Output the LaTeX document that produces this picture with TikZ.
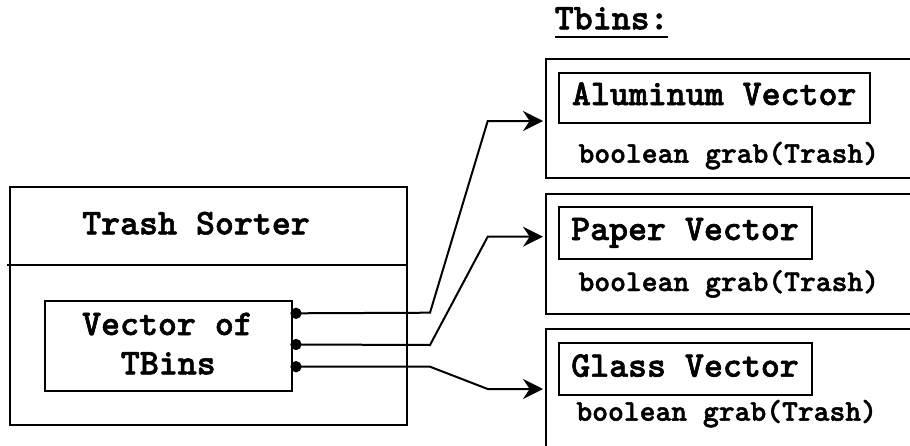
\documentclass[tikz,border=0pt]{standalone}
\usepackage{fontspec}
\newfontfamily\courbold{lmmonolt10-bold.otf}[FakeBold=1.6]
\usetikzlibrary{arrows.meta,fit}
\begin{document}
\begin{tikzpicture}[x=0.75pt,y=-0.75pt,
  line width=1.5pt,
  box/.style={draw,line width=1.5pt,inner sep=0pt,rectangle},
  bigtxt/.style={font=\courbold\fontsize{27.1pt}{30pt}\selectfont,anchor=base,inner sep=0pt},
  smalltxt/.style={font=\courbold\fontsize{22.6pt}{26pt}\selectfont,anchor=base,inner sep=0pt},
  conn/.style={line width=1.5pt,line join=miter},
  arr/.style={conn,-{Stealth[length=15pt,width=15pt,inset=5pt]}},
  dot/.style={circle,fill=black,inner sep=0pt,minimum size=8.5pt}]
\useasboundingbox (0,0) rectangle (910,446);
\clip (0,0) rectangle (910,446);

% Trash Sorter
\coordinate (s1) at (10,187);
\coordinate (s2) at (407,425);
\node[box,fit=(s1)(s2)] (sorter) {};
\coordinate (divL) at (7,265);
\coordinate (divR) at (407,265);
\draw (divL) -- (divR);
\node[bigtxt] (sortertxt) at (196,234.3) {Trash Sorter};

\coordinate (v1) at (45,301);
\coordinate (v2) at (292,391);
\node[box,fit=(v1)(v2)] (vec) {};
\node[bigtxt] (vectxt1) at (167.5,335) {Vector of};
\node[bigtxt] (vectxt2) at (168.3,374.3) {TBins};

% Tbins label
\node[bigtxt] (tbins) at (611.7,29.3) {Tbins:};
\coordinate (ulL) at (555,37.3);
\coordinate (ulR) at (668.3,37.3);
\draw (ulL) -- (ulR);

% Right boxes
\coordinate (a1) at (545.7,59);
\coordinate (a2) at (930,178.3);
\node[box,fit=(a1)(a2)] (albox) {};
\coordinate (ai1) at (559.3,72.7);
\coordinate (ai2) at (870,123.3);
\node[box,fit=(ai1)(ai2)] (alin) {};
\node[bigtxt] (altxt) at (714.2,105) {Aluminum Vector};
\node[smalltxt] (almeth) at (728.8,162.7) {boolean grab(Trash)};

\coordinate (p1) at (545.7,194.3);
\coordinate (p2) at (930,314.3);
\node[box,fit=(p1)(p2)] (papbox) {};
\coordinate (pi1) at (559.3,206.7);
\coordinate (pi2) at (812.3,259);
\node[box,fit=(pi1)(pi2)] (papin) {};
\node[bigtxt] (paptxt) at (685,240) {Paper Vector};
\node[smalltxt] (papmeth) at (728.8,291) {boolean grab(Trash)};

\coordinate (g1) at (545.7,329);
\coordinate (g2) at (930,470);
\node[box,fit=(g1)(g2)] (glbox) {};
\coordinate (gi1) at (559.3,342.7);
\coordinate (gi2) at (812.3,395);
\node[box,fit=(gi1)(gi2)] (glin) {};
\node[bigtxt] (gltxt) at (685,376.7) {Glass Vector};
\node[smalltxt] (glmeth) at (726.7,420.7) {boolean grab(Trash)};

% connectors
\node[dot] (d1) at (296,313.3) {};
\node[dot] (d2) at (296,344.5) {};
\node[dot] (d3) at (296,366.7) {};
\coordinate (b1a) at (430,312.7);
\coordinate (b1b) at (487.7,121);
\coordinate (e1) at (543,121);
\coordinate (b2a) at (430,345);
\coordinate (b2b) at (487.7,236.7);
\coordinate (e2) at (543,236.7);
\coordinate (b3a) at (430,366.7);
\coordinate (b3b) at (487.7,389);
\coordinate (e3) at (543,389);
\draw[arr] (d1.center) -- (b1a) -- (b1b) -- (e1);
\draw[arr] (d2.center) -- (b2a) -- (b2b) -- (e2);
\draw[arr] (d3.center) -- (b3a) -- (b3b) -- (e3);
\end{tikzpicture}
\end{document}
